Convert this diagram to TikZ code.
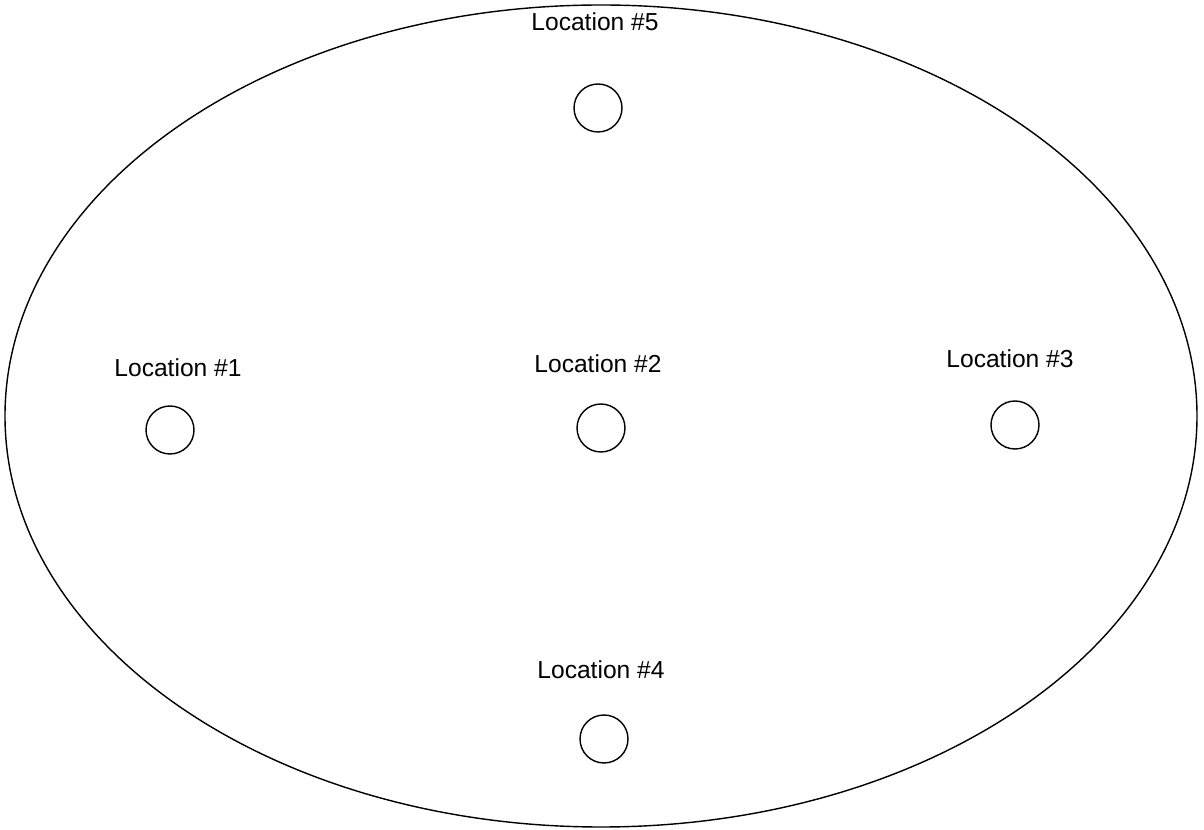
\documentclass[tikz,border=0pt]{standalone}
\usepackage{fontspec}
\setmainfont{Liberation Sans}
\usetikzlibrary{positioning}
\tikzset{
  spot/.style={draw,circle,minimum size=0.96cm,inner sep=0pt,line width=0.8pt},
  spotlabel/.style={font=\fontsize{14}{16}\selectfont,inner sep=1pt}
}

\begin{document}
\begin{tikzpicture}[x=0.02cm,y=-0.02cm]
  \useasboundingbox (0,0) rectangle (1204,830);
  \draw[line width=0.8pt] (601,416) ellipse [x radius=596,y radius=411];
  \node[spot] (loc5) at (598,108) {};
  \node[spot] (loc1) at (170,430) {};
  \node[spot] (loc2) at (601,428) {};
  \node[spot] (loc3) at (1015,425) {};
  \node[spot] (loc4) at (604,739) {};
  \node[spotlabel] (lab5) at (595,22) {Location \#5};
  \node[spotlabel] (lab1) at (178,368) {Location \#1};
  \node[spotlabel] (lab2) at (598,364) {Location \#2};
  \node[spotlabel] (lab3) at (1010,359) {Location \#3};
  \node[spotlabel] (lab4) at (601,670) {Location \#4};
\end{tikzpicture}
\end{document}
